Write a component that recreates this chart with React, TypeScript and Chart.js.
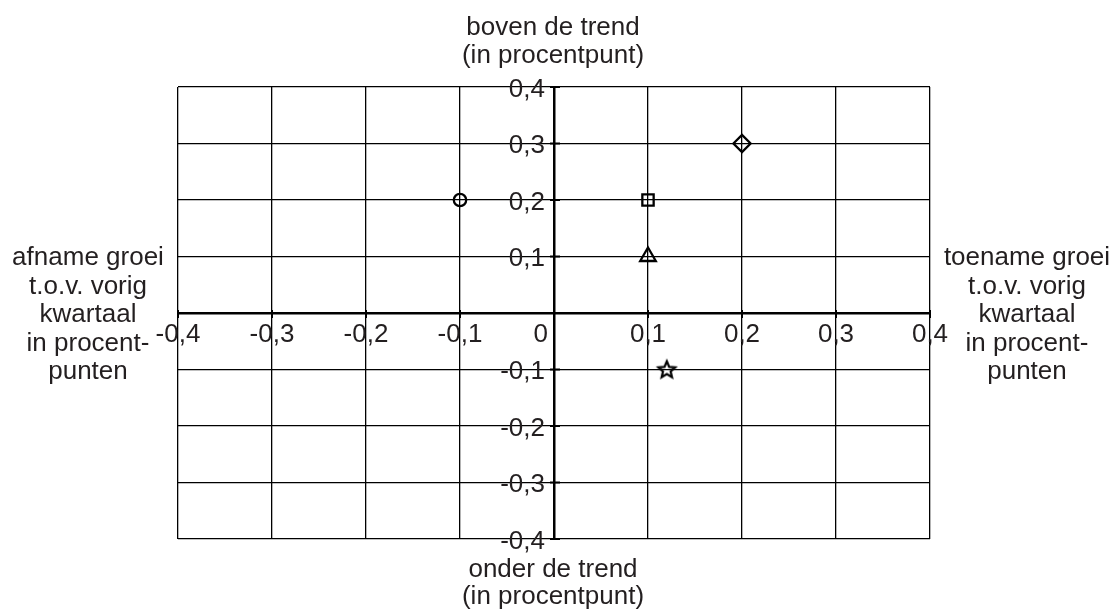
import React, { useEffect, useRef } from 'react';
import { Chart, registerables } from 'chart.js';

Chart.register(...registerables);

// ---- data ----
const xValues = [-0.1, 0.1, 0.2, 0.1, 0.12];
const yValues = [0.2, 0.2, 0.3, 0.1, -0.1];
const markerShapes = ['circle', 'rect', 'rectRot', 'triangle', 'star5'];
const markerRadii = [6.2, 8, 8.6, 9, 9];

const axisMin = -0.4;
const axisMax = 0.4;
const axisStep = 0.1;

const topTitle = ['boven de trend', '(in procentpunt)'];
const bottomTitle = ['onder de trend', '(in procentpunt)'];
const leftTitle = ['afname groei', 't.o.v. vorig', 'kwartaal', 'in procent-', 'punten'];
const rightTitle = ['toename groei', 't.o.v. vorig', 'kwartaal', 'in procent-', 'punten'];

const FONT = '26px "Liberation Sans", Arial, Helvetica, sans-serif';
const TEXT_COLOR = '#231f20';

const formatTick = (v: number) => (Math.abs(v) < 1e-9 ? '0' : v.toFixed(1).replace('.', ','));
const isZero = (v: number) => Math.abs(v) < 1e-9;

function makeStar(): HTMLCanvasElement {
  const size = 26;
  const R = 8.8;
  const r = 4.0;
  const c = document.createElement('canvas');
  c.width = size;
  c.height = size;
  const g = c.getContext('2d')!;
  g.strokeStyle = '#000';
  g.lineWidth = 2.2;
  g.lineJoin = 'miter';
  g.beginPath();
  for (let i = 0; i < 10; i++) {
    const a = -Math.PI / 2 + (i * Math.PI) / 5;
    const rad = i % 2 === 0 ? R : r;
    const px = size / 2 + rad * Math.cos(a);
    const py = size / 2 + 0.6 + rad * Math.sin(a);
    if (i === 0) g.moveTo(px, py);
    else g.lineTo(px, py);
  }
  g.closePath();
  g.stroke();
  return c;
}

const labelsPlugin = {
  id: 'centerLabels',
  afterDraw(chart: any) {
    const ctx: CanvasRenderingContext2D = chart.ctx;
    const xs = chart.scales.x;
    const ys = chart.scales.y;
    const area = chart.chartArea;
    const x0 = xs.getPixelForValue(0);
    const y0 = ys.getPixelForValue(0);
    ctx.save();

    // small tick marks on the centre axes
    ctx.strokeStyle = '#000';
    ctx.lineWidth = 2;
    ys.ticks.forEach((t: any) => {
      if (isZero(t.value)) return;
      const py = ys.getPixelForValue(t.value);
      ctx.beginPath();
      ctx.moveTo(x0 - 4, py);
      ctx.lineTo(x0 + 6, py);
      ctx.stroke();
    });
    xs.ticks.forEach((t: any) => {
      if (isZero(t.value)) return;
      const px = xs.getPixelForValue(t.value);
      ctx.beginPath();
      ctx.moveTo(px, y0 - 3);
      ctx.lineTo(px, y0 + 5);
      ctx.stroke();
    });

    ctx.font = FONT;
    ctx.fillStyle = TEXT_COLOR;
    ctx.textBaseline = 'alphabetic';

    // x tick labels
    xs.ticks.forEach((t: any) => {
      const px = xs.getPixelForValue(t.value);
      if (isZero(t.value)) {
        ctx.textAlign = 'right';
        ctx.fillText(formatTick(t.value), x0 - 6, y0 + 29);
      } else {
        ctx.textAlign = 'center';
        ctx.fillText(formatTick(t.value), px, y0 + 29);
      }
    });

    // y tick labels
    ctx.textAlign = 'right';
    ys.ticks.forEach((t: any) => {
      if (isZero(t.value)) return;
      const py = ys.getPixelForValue(t.value);
      ctx.fillText(formatTick(t.value), x0 - 9, py + 9.5);
    });

    // titles
    ctx.textAlign = 'center';
    topTitle.forEach((line, i) => ctx.fillText(line, x0 - 1, area.top - 52 + i * 28));
    bottomTitle.forEach((line, i) => ctx.fillText(line, x0 - 1, area.bottom + 38 + i * 27));
    leftTitle.forEach((line, i) => ctx.fillText(line, area.left - 90, y0 - 48 + i * 28.5));
    rightTitle.forEach((line, i) => ctx.fillText(line, area.right + 97, y0 - 48 + i * 28.5));

    ctx.restore();
  },
};

export default function App() {
  const canvasRef = useRef<HTMLCanvasElement | null>(null);

  useEffect(() => {
    if (!canvasRef.current) return;
    const star = makeStar();
    const styles = markerShapes.map((s) => (s === 'star5' ? star : s));
    const gridWidth = (c: any) => (c.tick && isZero(c.tick.value) ? 2.5 : 1.3);

    const chart = new Chart(canvasRef.current, {
      type: 'scatter',
      data: {
        datasets: [
          {
            data: xValues.map((x, i) => ({ x, y: yValues[i] })),
            pointStyle: styles as any,
            pointRadius: markerRadii,
            pointHoverRadius: markerRadii,
            borderColor: '#000',
            backgroundColor: 'rgba(0,0,0,0)',
            borderWidth: 2.3,
            pointBorderWidth: 2.3,
          },
        ],
      },
      options: {
        responsive: false,
        animation: false,
        events: [],
        layout: { padding: { left: 178, right: 184, top: 87, bottom: 71 } },
        plugins: { legend: { display: false }, tooltip: { enabled: false }, title: { display: false } },
        scales: {
          x: {
            type: 'linear',
            min: axisMin,
            max: axisMax,
            ticks: { display: false, stepSize: axisStep },
            grid: { color: '#000', lineWidth: gridWidth, drawTicks: false },
            border: { display: false },
          },
          y: {
            type: 'linear',
            min: axisMin,
            max: axisMax,
            ticks: { display: false, stepSize: axisStep },
            grid: { color: '#000', lineWidth: gridWidth, drawTicks: false },
            border: { display: false },
          },
        },
      },
      plugins: [labelsPlugin],
    });
    return () => chart.destroy();
  }, []);

  return (
    <div style={{ position: 'absolute', left: 0, top: 0, width: 1114, height: 610, background: '#fff' }}>
      <canvas ref={canvasRef} width={1114} height={610} />
    </div>
  );
}
